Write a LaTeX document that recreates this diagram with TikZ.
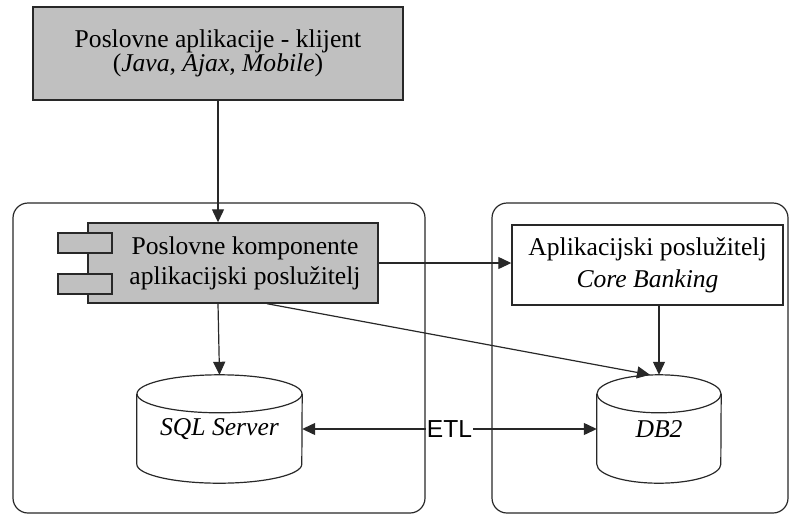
\documentclass[tikz,border=0pt]{standalone}
\usepackage{fontspec}
\setmainfont{Liberation Serif}
\newfontfamily\etlfont{Liberation Sans}
\usepackage{xcolor}
\usepackage{tikz}
\usetikzlibrary{arrows.meta}
\definecolor{boxgray}{RGB}{192,192,192}
\definecolor{linegray}{RGB}{40,40,40}
\tikzset{
  frame/.style={draw=linegray,line width=1.2pt,rounded corners=15pt},
  graybox/.style={draw=linegray,fill=boxgray,line width=1.4pt,align=center,inner sep=0pt},
  whitebox/.style={draw=linegray,fill=white,line width=1.4pt,align=center,inner sep=0pt},
  dbnode/.style={inner sep=0pt,font={\fontsize{25.6}{30}\selectfont\itshape}},
  tip/.tip={Triangle[length=13pt,width=12pt]},
  conn/.style={draw=linegray,line width=1.2pt,-tip},
}

\begin{document}
\begin{tikzpicture}[x=1pt,y=-1pt]
        \useasboundingbox (0,0) rectangle (792,515);
        % two rounded containers, bottom edge nearly at the border
        \draw[frame] (13,203) rectangle (425,513);
        \draw[frame] (492,203) rectangle (788,513);
        % client box on top
        \node[graybox,minimum width=370pt,minimum height=93pt,
              font={\fontsize{25.6}{24}\selectfont}] (client) at (218,53.5)
              {Poslovne aplikacije - klijent\\(\textit{Java}, \textit{Ajax}, \textit{Mobile})};
        % component box (text pushed right of the tabs)
        \node[graybox,minimum width=290pt,minimum height=80pt,
              font={\fontsize{25.6}{30}\selectfont}] (comp) at (233,263)
              {\hspace*{24pt}Poslovne komponente\\\hspace*{24pt}aplikacijski poslužitelj};
        \filldraw[draw=linegray,fill=boxgray,line width=1.4pt] (58,233) rectangle (112,253);
        \filldraw[draw=linegray,fill=boxgray,line width=1.4pt] (58,274) rectangle (112,294);
        % core banking server
        \node[whitebox,minimum width=271pt,minimum height=80pt,
              font={\fontsize{25.6}{32}\selectfont}] (core) at (647.5,265)
              {Aplikacijski poslužitelj\\\textit{Core Banking}};
        % databases, outline drawn below
        \node[dbnode,minimum width=165pt,minimum height=108pt] (sql) at (219.5,429) {SQL Server};
        \node[dbnode,minimum width=124pt,minimum height=108pt] (db2) at (659,429) {DB2};
        \foreach \db/\r in {sql/82.5pt,db2/62pt}
          {\draw[draw=linegray,line width=1.2pt] ([yshift=-19pt]\db.north west) -- ([yshift=19pt]\db.south west)
             arc[start angle=180,end angle=360,x radius=\r,y radius=19pt] -- ([yshift=-19pt]\db.north east);
           \draw[draw=linegray,line width=1.2pt] ([yshift=-19pt]\db.north) ellipse [x radius=\r,y radius=19pt];}
        % connectors
        \draw[conn] (client.south) -- (client.south |- comp.north);
        \draw[conn] (client.south |- comp.south) -- (sql.north);
        \draw[conn] (comp.east) -- (comp.east -| core.west);
        \draw[conn] (db2.north |- core.south) -- (db2.north);
        \draw[conn] ([xshift=34pt]comp.south) -- ([xshift=-9pt]db2.north);
        \draw[conn,tip-tip] (sql.east) -- (db2.west)
          node[midway,fill=white,inner xsep=1pt,inner ysep=8pt,font={\fontsize{24.6}{28}\etlfont}] (etl) {ETL};
      \end{tikzpicture}
\end{document}
